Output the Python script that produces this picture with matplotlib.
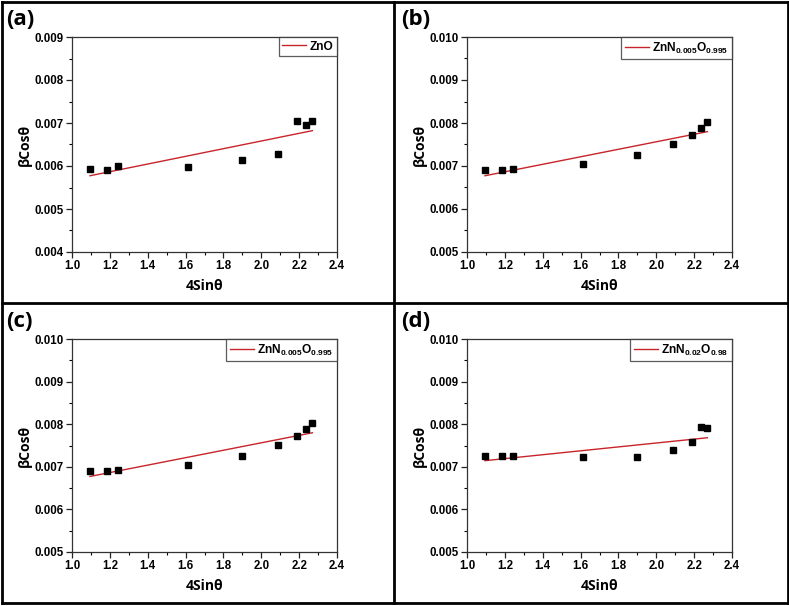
import matplotlib
matplotlib.use("Agg")
import matplotlib.pyplot as plt
from matplotlib.lines import Line2D
from matplotlib.ticker import MultipleLocator, FormatStrFormatter
import numpy as np

plt.rcParams['font.family'] = ['Liberation Sans', 'DejaVu Sans']
plt.rcParams['font.weight'] = 'bold'
plt.rcParams['mathtext.fontset'] = 'custom'
plt.rcParams['mathtext.rm'] = 'Liberation Sans:bold'
plt.rcParams['mathtext.bf'] = 'Liberation Sans:bold'
plt.rcParams['mathtext.default'] = 'bf'

# 4Sin(theta) values, same for all samples
x_vals = [1.095, 1.185, 1.245, 1.615, 1.900, 2.088, 2.190, 2.237, 2.270]

# BetaCos(theta) values
y_zno = [0.00593, 0.00591, 0.00600, 0.00598, 0.00614, 0.00628, 0.00705, 0.00695, 0.00705]
y_n005_b = [0.00690, 0.00690, 0.00692, 0.00705, 0.00725, 0.00752, 0.00773, 0.00788, 0.00802]
y_n005_c = [0.00690, 0.00690, 0.00692, 0.00705, 0.00725, 0.00752, 0.00773, 0.00788, 0.00802]
y_n02 = [0.00725, 0.00725, 0.00725, 0.00724, 0.00722, 0.00740, 0.00759, 0.00793, 0.00790]

panel_tags = ['(a)', '(b)', '(c)', '(d)']
legend_labels = ['ZnO',
                 r'ZnN$_{0.005}$O$_{0.995}$',
                 r'ZnN$_{0.005}$O$_{0.995}$',
                 r'ZnN$_{0.02}$O$_{0.98}$']
y_lims = [(0.004, 0.009), (0.005, 0.010), (0.005, 0.010), (0.005, 0.010)]
series = [y_zno, y_n005_b, y_n005_c, y_n02]

W, H = 789, 606
fig = plt.figure(figsize=(W / 100, H / 100), dpi=100)

# axes boxes in pixels: left, top, right, bottom
boxes = [(72, 37, 337, 252), (467, 37, 732, 252),
         (72, 339, 337, 552), (467, 339, 732, 552)]
# panel origins for the (x) tags
origins = [(6, 9), (401, 9), (6, 311), (401, 311)]

for i in range(4):
    l, t, r, b = boxes[i]
    ax = fig.add_axes([l / W, 1 - b / H, (r - l) / W, (b - t) / H])
    x = np.array(x_vals)
    y = np.array(series[i])
    k, c = np.polyfit(x, y, 1)
    xx = np.array([x.min(), x.max()])
    ax.plot(xx, k * xx + c, color='#c8242b', lw=1.0, label=legend_labels[i])
    ax.plot(x, y, 's', color='black', ms=3.8, ls='none')

    ax.set_xlim(1.0, 2.4)
    ax.set_ylim(*y_lims[i])
    ax.xaxis.set_major_locator(MultipleLocator(0.2))
    ax.xaxis.set_minor_locator(MultipleLocator(0.1))
    ax.yaxis.set_major_locator(MultipleLocator(0.001))
    ax.yaxis.set_minor_locator(MultipleLocator(0.0005))
    ax.xaxis.set_major_formatter(FormatStrFormatter('%.1f'))
    ax.yaxis.set_major_formatter(FormatStrFormatter('%.3f'))
    ax.tick_params(which='major', direction='out', length=4, width=0.9,
                   labelsize=8.3, colors='#222222', pad=2)
    ax.tick_params(which='minor', direction='out', length=2.5, width=0.8)
    for lab in ax.get_xticklabels() + ax.get_yticklabels():
        lab.set_fontweight('bold')
        lab.set_color('black')
    for s in ax.spines.values():
        s.set_linewidth(0.9)
        s.set_color('#333333')

    ax.set_xlabel('4Sinθ', family=['Open Sans', 'DejaVu Sans'],
                  fontweight='bold', fontsize=10, labelpad=5)
    ax.set_ylabel('βCosθ', family=['Open Sans', 'DejaVu Sans'],
                  fontweight='bold', fontsize=10, labelpad=2)

    leg = ax.legend(loc='upper right', borderaxespad=0, fontsize=8.6,
                    frameon=True, fancybox=False, handlelength=2.0,
                    handletextpad=0.3, borderpad=0.3)
    leg.get_frame().set_edgecolor('#333333')
    leg.get_frame().set_linewidth(0.9)
    for txt in leg.get_texts():
        txt.set_fontweight('bold')

    ox, oy = origins[i]
    fig.text(ox / W, 1 - oy / H, panel_tags[i], ha='left', va='top',
             fontsize=16, fontweight='bold',
             family=['Open Sans', 'DejaVu Sans'])

# black frames around the four quadrants
frame_lines = [
    ((1.5, 787.5), (1.5, 1.5)),
    ((1.5, 787.5), (603, 603)),
    ((1.5, 1.5), (1.5, 603)),
    ((787.5, 787.5), (1.5, 603)),
    ((1.5, 787.5), (303, 303)),
    ((394, 394), (1.5, 603)),
]
for xs, ys in frame_lines:
    fig.add_artist(Line2D([v / W for v in xs], [1 - v / H for v in ys],
                          color='black', lw=2.0))

fig.savefig('out.png', dpi=100)
